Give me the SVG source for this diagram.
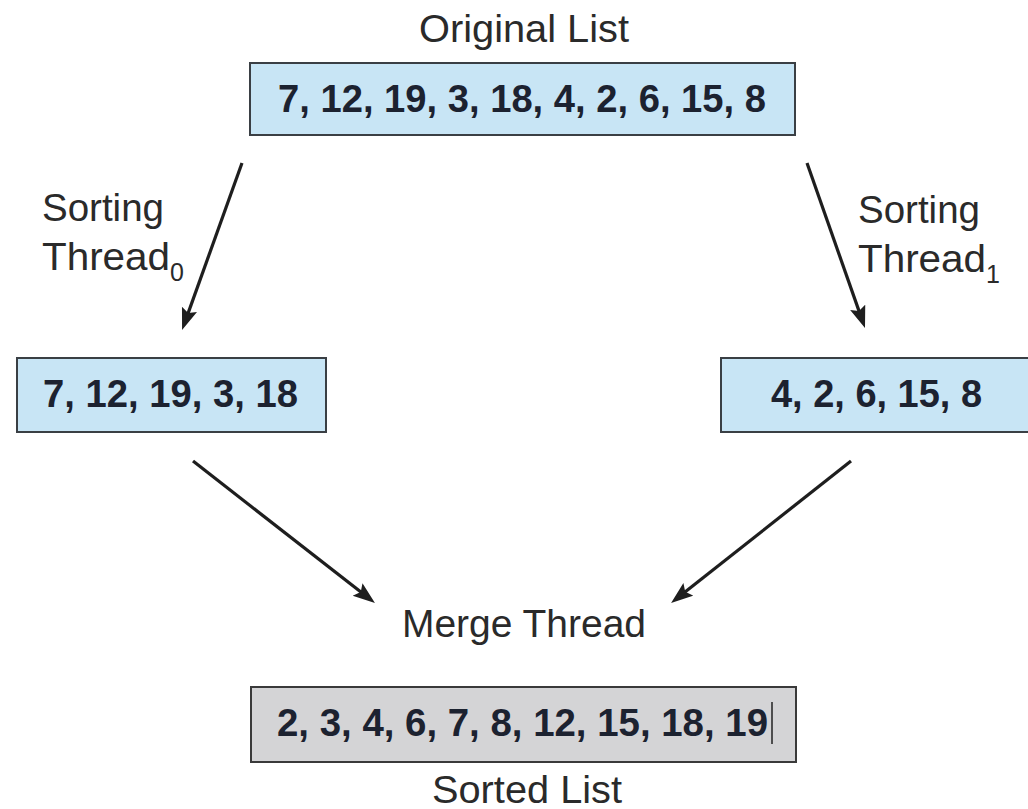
<svg xmlns="http://www.w3.org/2000/svg" width="1028" height="809" viewBox="0 0 1028 809">
  <defs>
    <marker id="ah" markerUnits="userSpaceOnUse" markerWidth="26" markerHeight="20" refX="16" refY="8" orient="auto">
      <path d="M0,0 L22,8 L0,16 L4,8 z" fill="#1e1e1e"/>
    </marker>
    <style>
      .lbl { font-family: "Liberation Sans", Arial, Helvetica, sans-serif; font-size: 38px; fill: #2a2a2a; }
      .num { font-family: "Liberation Sans", Arial, Helvetica, sans-serif; font-size: 38px; font-weight: bold; fill: #1c2230; }
      .sub { font-family: "Liberation Sans", Arial, Helvetica, sans-serif; font-size: 25px; fill: #2a2a2a; }
      .blue { fill: #c8e5f5; stroke: #3a3f44; stroke-width: 2; }
      .gray { fill: #d4d4d6; stroke: #3a3a3a; stroke-width: 2; }
      .conn { stroke: #1e1e1e; stroke-width: 3.2; fill: none; marker-end: url(#ah); }
    </style>
  </defs>
  <rect width="1028" height="809" fill="#ffffff"/>

  <g id="original-list">
    <text class="lbl" x="524" y="42" text-anchor="middle" textLength="210" lengthAdjust="spacingAndGlyphs">Original List</text>
    <rect class="blue" x="250" y="63" width="545" height="72"/>
    <text class="num" x="522" y="112" text-anchor="middle" textLength="488" lengthAdjust="spacingAndGlyphs">7, 12, 19, 3, 18, 4, 2, 6, 15, 8</text>
  </g>

  <g id="label-thread0">
    <text class="lbl" x="42" y="221" textLength="122" lengthAdjust="spacingAndGlyphs">Sorting</text>
    <text class="lbl" x="42" y="270"><tspan textLength="128" lengthAdjust="spacingAndGlyphs">Thread</tspan><tspan class="sub" dy="11">0</tspan></text>
  </g>

  <g id="label-thread1">
    <text class="lbl" x="858" y="223" textLength="122" lengthAdjust="spacingAndGlyphs">Sorting</text>
    <text class="lbl" x="858" y="272"><tspan textLength="128" lengthAdjust="spacingAndGlyphs">Thread</tspan><tspan class="sub" dy="11">1</tspan></text>
  </g>

  <g id="left-half">
    <rect class="blue" x="17" y="358" width="309" height="74"/>
    <text class="num" x="43" y="407" textLength="255" lengthAdjust="spacingAndGlyphs">7, 12, 19, 3, 18</text>
  </g>

  <g id="right-half">
    <rect class="blue" x="721" y="358" width="320" height="74"/>
    <text class="num" x="771" y="407" textLength="211" lengthAdjust="spacingAndGlyphs">4, 2, 6, 15, 8</text>
  </g>

  <g id="merge-thread">
    <text class="lbl" x="524" y="637" text-anchor="middle" textLength="244" lengthAdjust="spacingAndGlyphs">Merge Thread</text>
  </g>

  <g id="sorted-list">
    <rect class="gray" x="251" y="687" width="545" height="75"/>
    <text class="num" x="277" y="736" textLength="491" lengthAdjust="spacingAndGlyphs">2, 3, 4, 6, 7, 8, 12, 15, 18, 19</text>
    <line x1="772" y1="702" x2="772" y2="744" stroke="#222" stroke-width="1.5"/>
    <text class="lbl" x="527" y="803" text-anchor="middle" textLength="190" lengthAdjust="spacingAndGlyphs">Sorted List</text>
  </g>

  <g id="connectors">
    <line class="conn" x1="242" y1="163" x2="184.1" y2="324.4"/>
    <line class="conn" x1="807" y1="163" x2="863" y2="322.4"/>
    <line class="conn" x1="193" y1="461" x2="370.2" y2="599.3"/>
    <line class="conn" x1="851" y1="461" x2="675.8" y2="599.3"/>
  </g>
</svg>
